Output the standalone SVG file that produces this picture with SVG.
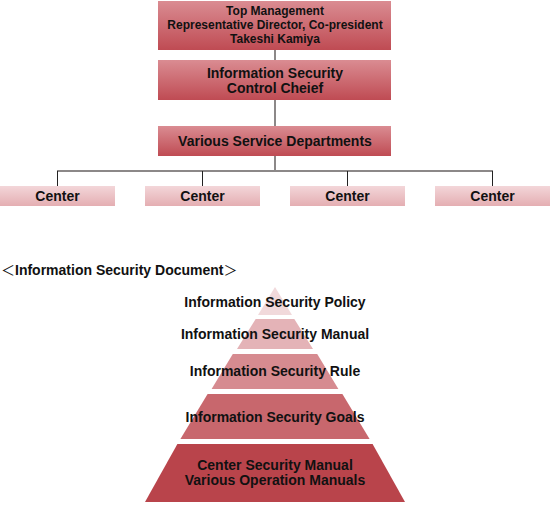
<svg xmlns="http://www.w3.org/2000/svg" width="558" height="507" viewBox="0 0 558 507">
<defs>
<linearGradient id="gRed" x1="0" y1="0" x2="0" y2="1">
<stop offset="0" stop-color="#da8c92"/>
<stop offset="1" stop-color="#bf4b53"/>
</linearGradient>
<linearGradient id="gPink" x1="0" y1="0" x2="0" y2="1">
<stop offset="0" stop-color="#f3d6d9"/>
<stop offset="1" stop-color="#e4aeb2"/>
</linearGradient>
<style>
text{font-family:"Liberation Sans",Arial,sans-serif;font-weight:bold;fill:#111;text-anchor:middle}
.t12{font-size:12px}
.t14{font-size:14px}
.br{font-family:"Noto Sans CJK JP","Liberation Sans",sans-serif;font-weight:normal}
.red{fill:url(#gRed)}
.pink{fill:url(#gPink)}
.gl{stroke:#8c8888;stroke-width:2;fill:none}
.bl{stroke:#222;stroke-width:1;fill:none}
</style>
</defs>
<g id="connectors">
<line class="gl" x1="275" y1="50" x2="275" y2="60"/>
<line class="gl" x1="275" y1="100" x2="275" y2="126"/>
<line class="gl" x1="275" y1="156" x2="275" y2="171"/>
<line class="gl" x1="57" y1="171" x2="493" y2="171"/>
<line class="bl" x1="57.5" y1="171" x2="57.5" y2="186"/>
<line class="bl" x1="202.5" y1="171" x2="202.5" y2="186"/>
<line class="bl" x1="347.5" y1="171" x2="347.5" y2="186"/>
<line class="bl" x1="492.5" y1="171" x2="492.5" y2="186"/>
</g>
<g id="top-management">
<rect class="red" x="158" y="1" width="233" height="49"/>
<text class="t12" x="275" y="15">Top Management</text>
<text class="t12" x="275" y="29">Representative Director, Co-president</text>
<text class="t12" x="275" y="43">Takeshi Kamiya</text>
</g>
<g id="control-chief">
<rect class="red" x="158" y="60" width="233" height="40"/>
<text class="t14" x="275" y="78">Information Security</text>
<text class="t14" x="275" y="93">Control Cheief</text>
</g>
<g id="service-departments">
<rect class="red" x="158" y="126" width="233" height="30"/>
<text class="t14" x="275" y="146">Various Service Departments</text>
</g>
<g id="center-1"><rect class="pink" x="0" y="186" width="115" height="20"/><text class="t14" x="57.5" y="201">Center</text></g>
<g id="center-2"><rect class="pink" x="145" y="186" width="115" height="20"/><text class="t14" x="202.5" y="201">Center</text></g>
<g id="center-3"><rect class="pink" x="290" y="186" width="115" height="20"/><text class="t14" x="347.5" y="201">Center</text></g>
<g id="center-4"><rect class="pink" x="435" y="186" width="115" height="20"/><text class="t14" x="492.5" y="201">Center</text></g>
<text class="t14" x="1" y="275" style="text-anchor:start"><tspan class="br">＜</tspan>Information Security Document<tspan class="br">＞</tspan></text>
<g id="pyramid">
<polygon fill="#f1d9db" points="275,287 292,315 258,315"/>
<polygon fill="#e4b3b7" points="255.7,319 294.3,319 313,349 237,349"/>
<polygon fill="#d68b90" points="232.8,354 317.2,354 338.4,389 211.6,389"/>
<polygon fill="#c8676d" points="207.6,394 342.4,394 369.6,439 180.4,439"/>
<polygon fill="#b9444b" points="177.4,444 372.6,444 405,502 145,502"/>
<text class="t14" x="275" y="307">Information Security Policy</text>
<text class="t14" x="275" y="339">Information Security Manual</text>
<text class="t14" x="275" y="376">Information Security Rule</text>
<text class="t14" x="275" y="422">Information Security Goals</text>
<text class="t14" x="275" y="470">Center Security Manual</text>
<text class="t14" x="275" y="485">Various Operation Manuals</text>
</g>
</svg>
